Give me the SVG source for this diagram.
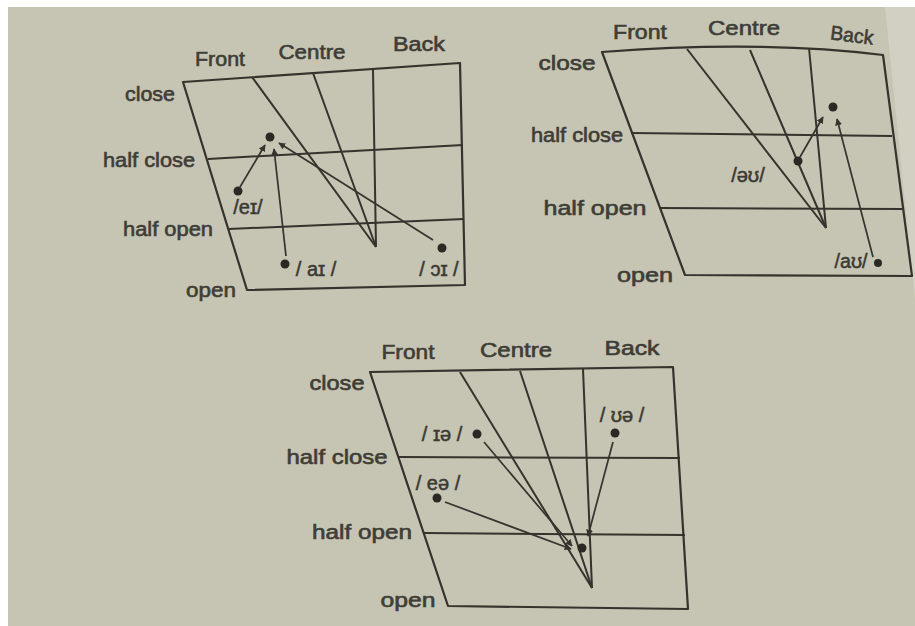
<svg xmlns="http://www.w3.org/2000/svg" width="915" height="626" viewBox="0 0 915 626">
<defs>
<marker id="ah" viewBox="0 0 10 10" refX="9" refY="5" markerWidth="7" markerHeight="7" markerUnits="userSpaceOnUse" orient="auto">
<path d="M0,0 L10,5 L0,10 z" fill="#34332d"/>
</marker>
<style>
.frame{fill:none;stroke:#34332d;stroke-width:2.2;stroke-linejoin:round}
.ln{fill:none;stroke:#34332d;stroke-width:2}
.arr{fill:none;stroke:#34332d;stroke-width:1.7;marker-end:url(#ah)}
.dot{fill:#2a2924}
.lbl{font-family:"Liberation Sans","Noto Sans",sans-serif;font-size:20px;fill:#3e3d36;stroke:#3e3d36;stroke-width:0.6;text-anchor:middle}
.ipa{font-family:"Liberation Sans","DejaVu Sans",sans-serif;font-size:20px;fill:#3a3933;stroke:#3a3933;stroke-width:0.5;text-anchor:middle}
</style>
</defs>
<rect x="0" y="0" width="915" height="626" fill="#ffffff"/>
<rect x="8" y="7" width="907" height="619" fill="#c6c4b2"/>
<path d="M885,7 L915,7 L915,300 Z" fill="#d2d0c2"/>

<g id="diagram1">
<g id="d1-frame">
<polygon class="frame" points="183,82 460,63 465,285 247,290"/>
<line class="ln" x1="208" y1="159" x2="463" y2="145"/>
<line class="ln" x1="229" y1="229" x2="464" y2="219"/>
<line class="ln" x1="373" y1="70" x2="376" y2="247"/>
<line class="ln" x1="252" y1="77" x2="376" y2="247"/>
<line class="ln" x1="313" y1="73" x2="376" y2="247"/>
</g>
<g id="d1-labels">
<text class="lbl" x="220" y="66" textLength="50" lengthAdjust="spacingAndGlyphs">Front</text>
<text class="lbl" x="312" y="59" textLength="67" lengthAdjust="spacingAndGlyphs">Centre</text>
<text class="lbl" x="419" y="51" textLength="52" lengthAdjust="spacingAndGlyphs">Back</text>
<text class="lbl" x="150" y="101" textLength="50" lengthAdjust="spacingAndGlyphs">close</text>
<text class="lbl" x="149" y="167" textLength="92" lengthAdjust="spacingAndGlyphs">half close</text>
<text class="lbl" x="168" y="236" textLength="90" lengthAdjust="spacingAndGlyphs">half open</text>
<text class="lbl" x="211" y="297" textLength="50" lengthAdjust="spacingAndGlyphs">open</text>
</g>
<g id="d1-ei"><circle class="dot" cx="238" cy="191" r="4.5"/><text class="ipa" x="248" y="214">/eɪ/</text></g>
<g id="d1-ai"><circle class="dot" cx="285" cy="264" r="4.5"/><text class="ipa" x="316" y="276">/ aɪ /</text></g>
<g id="d1-oi"><circle class="dot" cx="442" cy="248" r="4.5"/><text class="ipa" x="439" y="276">/ ɔɪ /</text></g>
<g id="d1-target"><circle class="dot" cx="270" cy="137" r="4.5"/></g>
</g>

<g id="diagram2">
<g id="d2-frame">
<path class="frame" d="M602,52 Q760,40 883,55 L912,276 L685,275 Z"/>
<line class="ln" x1="631" y1="133" x2="892" y2="136"/>
<line class="ln" x1="660" y1="208" x2="903" y2="209"/>
<line class="ln" x1="809" y1="48" x2="826" y2="228"/>
<line class="ln" x1="687" y1="49" x2="826" y2="228"/>
<line class="ln" x1="750" y1="50" x2="826" y2="228"/>
</g>
<g id="d2-labels">
<text class="lbl" x="640" y="39" textLength="54" lengthAdjust="spacingAndGlyphs">Front</text>
<text class="lbl" x="744" y="35" textLength="72" lengthAdjust="spacingAndGlyphs">Centre</text>
<text class="lbl" x="852" y="42" textLength="43" lengthAdjust="spacingAndGlyphs" transform="rotate(7 852 35)">Back</text>
<text class="lbl" x="567" y="70" textLength="57" lengthAdjust="spacingAndGlyphs">close</text>
<text class="lbl" x="577" y="142" textLength="92" lengthAdjust="spacingAndGlyphs">half close</text>
<text class="lbl" x="595" y="215" textLength="103" lengthAdjust="spacingAndGlyphs">half open</text>
<text class="lbl" x="645" y="282" textLength="56" lengthAdjust="spacingAndGlyphs">open</text>
</g>
<g id="d2-ou"><circle class="dot" cx="798" cy="161" r="4.5"/><text class="ipa" x="748" y="182">/əʊ/</text></g>
<g id="d2-au"><circle class="dot" cx="878" cy="263" r="4"/><text class="ipa" x="851" y="268" textLength="33" lengthAdjust="spacingAndGlyphs">/aʊ/</text></g>
<g id="d2-target"><circle class="dot" cx="833" cy="107" r="4.5"/></g>
</g>

<g id="diagram3">
<g id="d3-frame">
<polygon class="frame" points="370,372 673,367 688,609 448,606"/>
<line class="ln" x1="398" y1="457" x2="680" y2="458"/>
<line class="ln" x1="424" y1="533" x2="685" y2="535"/>
<line class="ln" x1="583" y1="369" x2="592" y2="588"/>
<line class="ln" x1="460" y1="372" x2="592" y2="588"/>
<line class="ln" x1="520" y1="371" x2="592" y2="588"/>
</g>
<g id="d3-labels">
<text class="lbl" x="408" y="359" textLength="53" lengthAdjust="spacingAndGlyphs">Front</text>
<text class="lbl" x="516" y="357" textLength="72" lengthAdjust="spacingAndGlyphs">Centre</text>
<text class="lbl" x="632" y="355" textLength="55" lengthAdjust="spacingAndGlyphs">Back</text>
<text class="lbl" x="337" y="390" textLength="55" lengthAdjust="spacingAndGlyphs">close</text>
<text class="lbl" x="337" y="464" textLength="101" lengthAdjust="spacingAndGlyphs">half close</text>
<text class="lbl" x="362" y="539" textLength="100" lengthAdjust="spacingAndGlyphs">half open</text>
<text class="lbl" x="408" y="607" textLength="55" lengthAdjust="spacingAndGlyphs">open</text>
</g>
<g id="d3-ie"><circle class="dot" cx="477" cy="434" r="4.5"/><text class="ipa" x="442" y="441">/ ɪə /</text></g>
<g id="d3-ea"><circle class="dot" cx="437" cy="498" r="4.5"/><text class="ipa" x="438" y="490">/ eə /</text></g>
<g id="d3-ua"><circle class="dot" cx="615" cy="433" r="4.5"/><text class="ipa" x="622" y="422">/ ʊə /</text></g>
<g id="d3-target"><circle class="dot" cx="582" cy="548" r="4.5"/></g>
</g>

<g id="connectors">
<line class="arr" x1="240" y1="187" x2="265" y2="145"/>
<line class="arr" x1="286" y1="256" x2="274" y2="149"/>
<line class="arr" x1="433" y1="240" x2="279" y2="143"/>
<line class="arr" x1="800" y1="157" x2="823" y2="117"/>
<line class="arr" x1="873" y1="257" x2="837" y2="119"/>
<line class="arr" x1="484" y1="442" x2="572" y2="546"/>
<line class="arr" x1="445" y1="502" x2="571" y2="549"/>
<line class="arr" x1="613" y1="442" x2="588" y2="536"/>
</g>
</svg>
